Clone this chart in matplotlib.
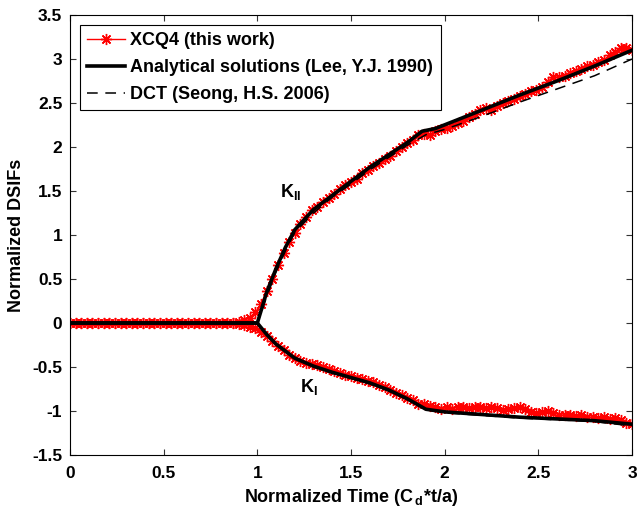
import numpy as np
import matplotlib
matplotlib.use("Agg")
import matplotlib.pyplot as plt

plt.rcParams['font.family'] = ['Liberation Sans', 'DejaVu Sans']
plt.rcParams['font.weight'] = 'bold'
plt.rcParams['mathtext.fontset'] = 'custom'
plt.rcParams['mathtext.rm'] = 'Liberation Sans:bold'
plt.rcParams['mathtext.bf'] = 'Liberation Sans:bold'
plt.rcParams['mathtext.it'] = 'Liberation Sans:bold'

# ---- XCQ4 (this work): sampled every 0.03 from 0 to 3 ----
t_xcq4 = np.round(np.arange(101) * 0.03, 2)
kii_xcq4 = [0.00] * 30 + [
    0.01, 0.03, 0.06, 0.12, 0.22, 0.36, 0.50, 0.66, 0.80, 0.92,
    1.02, 1.12, 1.20, 1.28, 1.32, 1.38, 1.42, 1.47, 1.52, 1.57,
    1.60, 1.64, 1.70, 1.74, 1.78, 1.82, 1.86, 1.90, 1.96, 2.00,
    2.04, 2.08, 2.14, 2.15, 2.14, 2.18, 2.20, 2.22, 2.24, 2.27,
    2.30, 2.34, 2.38, 2.42, 2.44, 2.42, 2.47, 2.50, 2.52, 2.55,
    2.58, 2.60, 2.64, 2.65, 2.68, 2.74, 2.80, 2.79, 2.81, 2.84,
    2.86, 2.89, 2.92, 2.93, 2.97, 2.99, 3.04, 3.08, 3.12, 3.13,
    3.10]
ki_xcq4 = [0.00] * 30 + [
    -0.01, -0.02, -0.04, -0.06, -0.10, -0.15, -0.20, -0.26, -0.31, -0.36,
    -0.40, -0.43, -0.45, -0.47, -0.48, -0.50, -0.52, -0.55, -0.57, -0.59,
    -0.60, -0.62, -0.64, -0.66, -0.67, -0.70, -0.73, -0.76, -0.79, -0.82,
    -0.85, -0.88, -0.92, -0.92, -0.94, -0.96, -0.98, -0.96, -0.98, -0.95,
    -0.95, -0.97, -0.96, -0.95, -0.97, -0.95, -0.97, -0.99, -0.98, -0.97,
    -0.96, -0.98, -1.01, -1.02, -1.01, -1.00, -1.02, -1.04, -1.05, -1.04,
    -1.06, -1.05, -1.07, -1.07, -1.08, -1.07, -1.09, -1.08, -1.10, -1.14,
    -1.15]

# ---- Analytical solutions (Lee, Y.J. 1990) ----
t_ana_ii = [0.0, 1.0, 1.05, 1.1, 1.15, 1.2, 1.3, 1.4, 1.5, 1.6, 1.7, 1.8, 1.88, 1.95, 2.2, 2.4, 2.6, 2.8, 3.0]
kii_ana = [0.0, 0.0, 0.35, 0.62, 0.86, 1.06, 1.29, 1.45, 1.61, 1.77, 1.91, 2.05, 2.18, 2.21, 2.42, 2.59, 2.75, 2.92, 3.10]
t_ana_i = [0.0, 1.0, 1.05, 1.1, 1.2, 1.3, 1.4, 1.5, 1.6, 1.7, 1.8, 1.9, 2.0, 2.2, 2.4, 2.6, 2.8, 3.0]
ki_ana = [0.0, 0.0, -0.13, -0.24, -0.40, -0.49, -0.56, -0.62, -0.68, -0.76, -0.86, -0.98, -1.01, -1.04, -1.07, -1.09, -1.11, -1.15]

# ---- DCT (Seong, H.S. 2006) ----
t_dct_ii = [0.0, 1.0, 1.05, 1.1, 1.15, 1.2, 1.3, 1.4, 1.5, 1.6, 1.7, 1.8, 1.9, 2.0, 2.2, 2.4, 2.6, 2.8, 3.0]
kii_dct = [0.0, 0.0, 0.30, 0.58, 0.82, 1.03, 1.25, 1.43, 1.58, 1.74, 1.88, 2.02, 2.14, 2.20, 2.35, 2.51, 2.66, 2.81, 3.00]
t_dct_i = [0.0, 1.0, 1.05, 1.1, 1.2, 1.3, 1.4, 1.5, 1.6, 1.7, 1.8, 1.9, 2.0, 2.2, 2.4, 2.6, 2.8, 3.0]
ki_dct = [0.0, 0.0, -0.12, -0.23, -0.39, -0.49, -0.57, -0.63, -0.69, -0.77, -0.87, -0.98, -1.02, -1.05, -1.08, -1.10, -1.12, -1.17]

x_ticks = [0, 0.5, 1, 1.5, 2, 2.5, 3]
x_tick_labels = ['0', '0.5', '1', '1.5', '2', '2.5', '3']
y_ticks = [-1.5, -1, -0.5, 0, 0.5, 1, 1.5, 2, 2.5, 3, 3.5]
y_tick_labels = ['-1.5', '-1', '-0.5', '0', '0.5', '1', '1.5', '2', '2.5', '3', '3.5']

FS = 13

fig = plt.figure(figsize=(6.38, 5.16), dpi=100)
ax = fig.add_axes([0.1097, 0.1182, 0.8809, 0.8527])

red_kw = dict(color='red', lw=1.0, marker=(8, 2, 0), ms=8, mec='red', mfc='red', mew=1.0)
l1, = ax.plot(t_xcq4, kii_xcq4, **red_kw, label='XCQ4 (this work)')
ax.plot(t_xcq4, ki_xcq4, **red_kw)
l2, = ax.plot(t_ana_ii, kii_ana, color='black', lw=2.6, label='Analytical solutions (Lee, Y.J. 1990)')
ax.plot(t_ana_i, ki_ana, color='black', lw=2.6)
l3, = ax.plot(t_dct_ii, kii_dct, color='black', lw=1.1, ls=(0, (7, 5)), label='DCT (Seong, H.S. 2006)')
ax.plot(t_dct_i, ki_dct, color='black', lw=1.1, ls=(0, (7, 5)))

ax.set_xlim(0, 3)
ax.set_ylim(-1.5, 3.5)
ax.set_xticks(x_ticks)
ax.set_xticklabels(x_tick_labels)
ax.set_yticks(y_ticks)
ax.set_yticklabels(y_tick_labels)
ax.tick_params(direction='in', top=True, right=True, length=4, width=0.8,
               labelsize=12.5, color='#333333')
ax.tick_params(axis='x', pad=8)
ax.tick_params(axis='y', pad=5.5)
for lab in ax.get_xticklabels() + ax.get_yticklabels():
    lab.set_fontweight('bold')
for s in ax.spines.values():
    s.set_linewidth(0.8)

ax.set_xlabel(r'Normalized Time (C$\,_{\mathbf{d}}$*t/a)', fontsize=FS, fontweight='bold', labelpad=4)
ax.set_ylabel('Normalized DSIFs', fontsize=FS, fontweight='bold', labelpad=5)

ax.text(1.121, 1.43, r'$\mathbf{K_{II}}$', fontsize=FS, ha='left', va='baseline')
ax.text(1.228, -0.78, r'$\mathbf{K_{I}}$', fontsize=FS, ha='left', va='baseline')

leg = ax.legend(handles=[l1, l2, l3], loc='upper left', frameon=True,
                fancybox=False, edgecolor='black', framealpha=1, borderaxespad=0.55,
                handlelength=2.1, handletextpad=0.3, labelspacing=0.55, borderpad=0.4,
                prop={'weight': 'bold', 'size': FS})
leg.get_frame().set_linewidth(0.8)

fig.savefig('out.png', dpi=100)
